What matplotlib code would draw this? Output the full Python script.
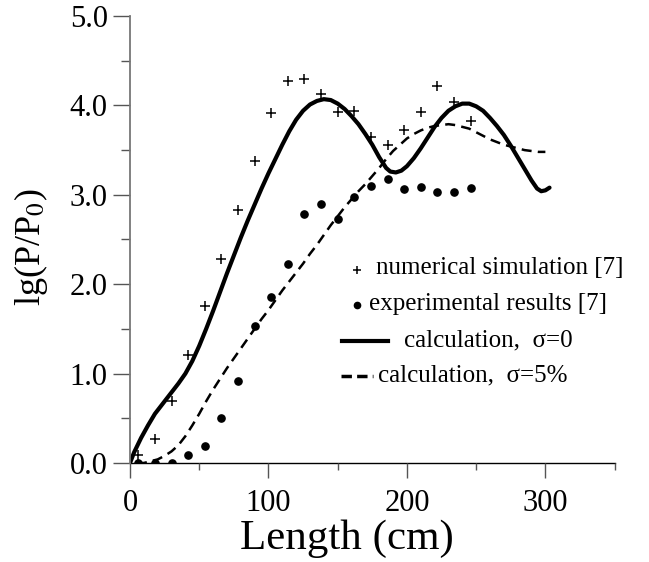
import numpy as np
import matplotlib
matplotlib.use('Agg')
import matplotlib.pyplot as plt
from matplotlib.ticker import MultipleLocator, FormatStrFormatter

plt.rcParams['font.family'] = ['Liberation Serif', 'DejaVu Serif']
plt.rcParams['mathtext.fontset'] = 'stix'

# numerical simulation [7] (crosses)
sim_x = [6, 18, 30, 42, 54, 66, 78, 90, 102, 114, 126, 138, 150, 162, 174, 186, 198, 210, 222, 234, 246]
sim_y = [0.09, 0.27, 0.69, 1.21, 1.76, 2.28, 2.83, 3.38, 3.91, 4.27, 4.30, 4.13, 3.93, 3.94, 3.65, 3.56,
         3.72, 3.93, 4.22, 4.04, 3.82]

# experimental results [7] (dots)
exp_x = [6, 18, 30, 42, 54, 66, 78, 90, 102, 114, 126, 138, 150, 162, 174, 186, 198, 210, 222, 234, 246]
exp_y = [0.0, 0.0, 0.0, 0.09, 0.19, 0.50, 0.92, 1.53, 1.86, 2.23, 2.78, 2.90, 2.73, 2.98, 3.10, 3.18,
         3.07, 3.09, 3.03, 3.03, 3.08]

# calculation, sigma = 0
calc0_x = [0, 3, 8, 13, 18, 24, 30, 35, 40, 45, 50, 55, 60, 65, 70, 75, 80, 85, 90, 95, 100, 105, 110,
           115, 120, 125, 130, 135, 140, 145, 150, 155, 160, 165, 170, 175, 180, 185, 188, 192, 196, 200,
           205, 210, 215, 220, 225, 230, 235, 240, 245, 250, 255, 260, 265, 270, 275, 280, 285, 290, 294,
           297, 300, 303]
calc0_y = [0.0, 0.12, 0.28, 0.42, 0.55, 0.67, 0.79, 0.89, 1.00, 1.14, 1.31, 1.50, 1.70, 1.91, 2.12,
           2.32, 2.52, 2.71, 2.89, 3.07, 3.24, 3.40, 3.56, 3.71, 3.84, 3.94, 4.01, 4.05, 4.07, 4.06, 4.02,
           3.96, 3.88, 3.79, 3.68, 3.56, 3.42, 3.30, 3.26, 3.25, 3.27, 3.32, 3.41, 3.52, 3.64, 3.76, 3.86,
           3.94, 3.99, 4.02, 4.02, 3.99, 3.94, 3.86, 3.77, 3.67, 3.55, 3.42, 3.29, 3.16, 3.07, 3.04, 3.05,
           3.08]

# calculation, sigma = 5%
calc5_x = [5, 10, 15, 20, 25, 30, 35, 40, 45, 50, 55, 60, 65, 70, 75, 80, 85, 90, 95, 100, 105, 110, 115,
           120, 125, 130, 135, 140, 145, 150, 155, 160, 165, 170, 175, 180, 185, 190, 195, 200, 205, 210,
           215, 220, 225, 230, 235, 240, 245, 250, 255, 260, 265, 270, 275, 280, 285, 290, 295, 300]
calc5_y = [0.0, 0.0, 0.02, 0.04, 0.08, 0.13, 0.20, 0.30, 0.42, 0.55, 0.69, 0.82, 0.94, 1.06, 1.17, 1.28,
           1.39, 1.50, 1.61, 1.71, 1.82, 1.93, 2.03, 2.13, 2.23, 2.34, 2.44, 2.55, 2.66, 2.76, 2.86, 2.95,
           3.04, 3.12, 3.21, 3.30, 3.40, 3.49, 3.56, 3.63, 3.68, 3.72, 3.75, 3.77, 3.78, 3.79, 3.78, 3.76,
           3.74, 3.70, 3.66, 3.62, 3.59, 3.56, 3.54, 3.52, 3.50, 3.49, 3.48, 3.48]

fig = plt.figure(figsize=(6.49, 5.62), dpi=100)
ax = fig.add_axes([0.2003, 0.1762, 0.7467, 0.7953])

ax.plot(calc0_x, calc0_y, color='black', lw=3.0, solid_capstyle='round', solid_joinstyle='round')
ax.plot(calc5_x, calc5_y, color='black', lw=1.8, dashes=(4, 2.5))
ax.plot(sim_x, sim_y, ls='none', marker='+', ms=6.5, mew=1.1, color='black')
ax.plot(exp_x, exp_y, ls='none', marker='o', ms=5.2, color='black')

ax.set_xlim(0, 350)
ax.set_ylim(0, 5)
ax.spines['top'].set_visible(False)
ax.spines['right'].set_visible(False)
ax.spines['left'].set_color('#777777')
ax.spines['left'].set_linewidth(1.3)
ax.spines['bottom'].set_linewidth(1.0)
ax.spines['bottom'].set_zorder(0)

ax.xaxis.set_major_locator(MultipleLocator(100))
ax.xaxis.set_minor_locator(MultipleLocator(50))
ax.yaxis.set_major_locator(MultipleLocator(1))
ax.yaxis.set_minor_locator(MultipleLocator(0.5))
ax.yaxis.set_major_formatter(FormatStrFormatter('%.1f'))

ax.tick_params(axis='y', which='major', length=12, width=1, color='#555555', labelsize=22, pad=4)
ax.tick_params(axis='y', which='minor', length=6.5, width=1, color='#555555')
ax.tick_params(axis='x', which='major', length=10.5, width=1, color='#555555', labelsize=22, pad=8)
ax.tick_params(axis='x', which='minor', length=5, width=1, color='#555555')

ax.set_xlabel('Length (cm)', fontsize=31)
ax.xaxis.set_label_coords(0.448, -0.127)
ax.set_ylabel(r'lg(P/P$_0$)', fontsize=26)
ax.yaxis.set_label_coords(-0.165, 0.483)


def px(x, y):
    # pixel position in the picture -> axes fraction
    return (x - 130) / 484.75, (463 - y) / 447


leg_size = 18
tr = ax.transAxes
ax.plot(*px(357, 270), marker='+', ms=6, mew=1.1, color='black', transform=tr, clip_on=False)
ax.text(*px(376, 268), 'numerical simulation [7]', fontsize=leg_size, va='center', transform=tr)
ax.plot(*px(357, 305), marker='o', ms=4.5, color='black', transform=tr, clip_on=False)
ax.text(*px(369, 304), 'experimental results [7]', fontsize=leg_size, va='center', transform=tr)
x0, y0 = px(342, 341)
x1, _ = px(388, 341)
ax.plot([x0, x1], [y0, y0], color='black', lw=3, transform=tr, clip_on=False)
ax.text(*px(404, 340), 'calculation,  σ=0', fontsize=leg_size, va='center', transform=tr)
x0, y0 = px(341, 376)
x1, _ = px(373, 376)
ax.plot([x0, x1], [y0, y0], color='black', lw=2.5, dashes=(3, 1.5), transform=tr, clip_on=False)
ax.text(*px(378, 375), 'calculation,  σ=5%', fontsize=leg_size, va='center', transform=tr)

fig.savefig('out.png', dpi=100)
